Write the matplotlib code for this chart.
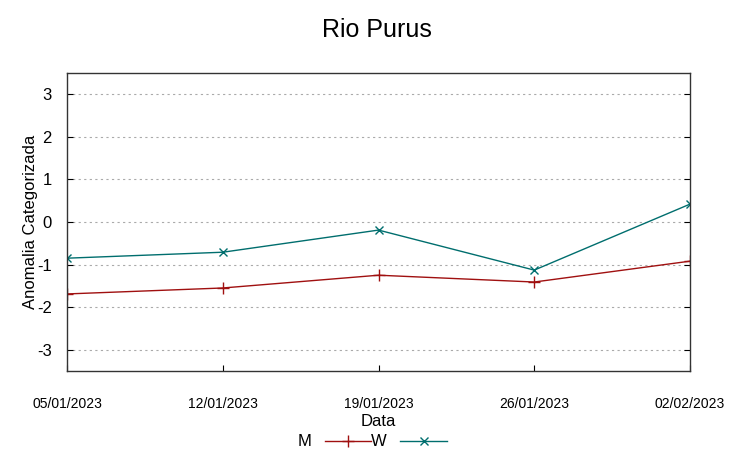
import datetime as dt
import matplotlib
matplotlib.use("Agg")
import matplotlib.pyplot as plt

plt.rcParams['font.family'] = ['Liberation Sans', 'DejaVu Sans']
plt.rcParams['axes.unicode_minus'] = False

datas = [dt.date(2023, 1, 5), dt.date(2023, 1, 12), dt.date(2023, 1, 19),
         dt.date(2023, 1, 26), dt.date(2023, 2, 2)]
rotulos = ["05/01/2023", "12/01/2023", "19/01/2023", "26/01/2023", "02/02/2023"]
serie_m = [-1.69, -1.55, -1.25, -1.41, -0.92]
serie_w = [-0.85, -0.71, -0.19, -1.13, 0.42]

fig = plt.figure(figsize=(7.53, 4.59), dpi=100)
ax = fig.add_axes([67 / 753, 1 - 371 / 459, 623 / 753, 298 / 459])

ax.plot(datas, serie_m, color='#a01010', lw=1.0, marker='+', ms=9, mew=1.0, label='M')
ax.plot(datas, serie_w, color='#006e6e', lw=1.0, marker='x', ms=6, mew=1.0, label='W')

ax.set_xlim(datas[0], datas[-1])
ax.set_ylim(-3.5, 3.5)
ax.set_xticks(datas)
ax.set_xticklabels(rotulos, fontsize=10)
ax.set_yticks([-3, -2, -1, 0, 1, 2, 3])
ax.tick_params(axis='y', labelsize=12, direction='in', right=True, length=4, pad=11)
ax.tick_params(axis='x', direction='in', length=4, pad=19)
ax.grid(axis='y', color='#aaaaaa', linestyle=(0, (2, 3)), lw=0.8)
ax.set_axisbelow(True)
for s in ax.spines.values():
    s.set_linewidth(1.0)
    s.set_color('#333333')

ax.set_xlabel("Data", fontsize=12, labelpad=2)
ax.set_ylabel("Anomalia Categorizada", fontsize=12, labelpad=-1)
fig.suptitle("Rio Purus", fontsize=18, y=0.96)

ax.legend(loc='upper center', bbox_to_anchor=(0.49, -0.185), ncol=2, frameon=False,
          markerfirst=False, fontsize=12, handlelength=2.8, columnspacing=0.0,
          handletextpad=0.8, borderpad=0)

fig.savefig("out.png", dpi=100)
